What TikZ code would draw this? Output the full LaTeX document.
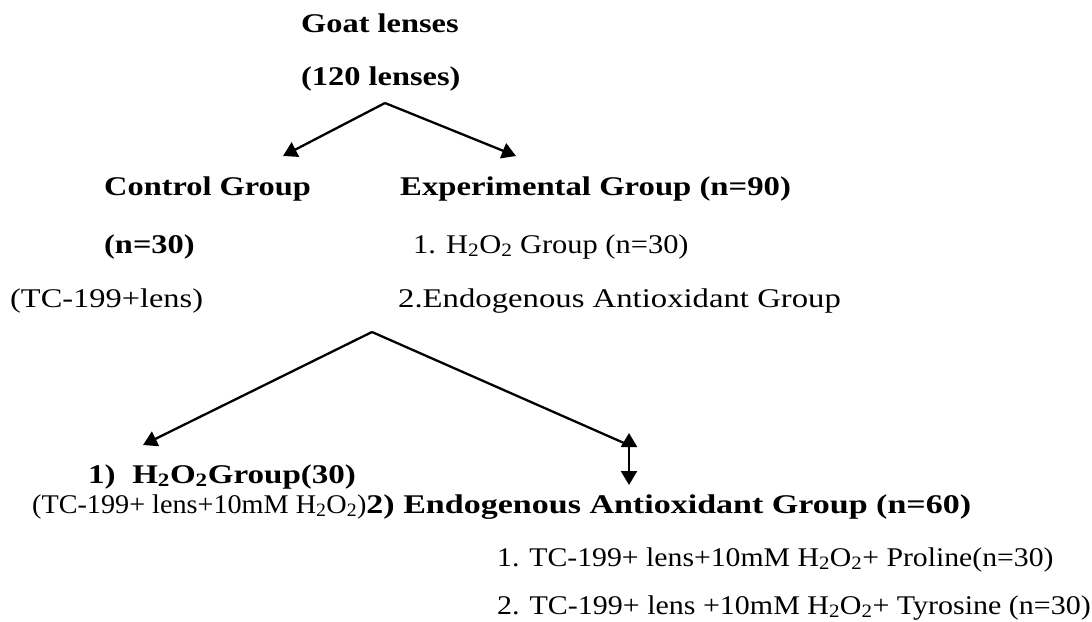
\documentclass[tikz,border=0pt]{standalone}
\usepackage{fontspec}
\usepackage{graphicx}
\setmainfont{Liberation Serif}[FakeStretch=1.2]
\usetikzlibrary{arrows.meta}
\newcommand{\hto}{H\textsubscript{2}O\textsubscript{2}}
\newcommand{\hsx}[2]{\scalebox{#1}[1]{#2}}
\begin{document}
\begin{tikzpicture}[x=1pt,y=-1pt,
  txt/.style={anchor=base west, inner sep=0pt, font=\fontsize{27}{32}\selectfont},
  btxt/.style={txt, font=\fontsize{27}{32}\selectfont\bfseries},
  arr/.style={line width=2.3pt, -{Triangle[length=14pt,width=16pt]}},
  darr/.style={line width=2.3pt, {Triangle[length=14pt,width=16pt]}-{Triangle[length=14pt,width=16pt]}}]
\useasboundingbox (0,0) rectangle (1092,621);
% top
\node[btxt] (goat) at (301,32) {Goat lenses};
\node[btxt] (n120) at (301,85) {(120 lenses)};
\coordinate (ap1) at (385,103);
\coordinate (ctlend) at (283,156);
\coordinate (expend) at (516,156);
\draw[arr] (ap1) -- (ctlend);
\draw[arr] (ap1) -- (expend);
% second level
\node[btxt] (ctl) at (104,195) {Control Group};
\node[btxt] (ctln) at (104,253) {(n=30)};
\node[txt] (ctlt) at (10,307) {(TC-199+lens)};
\node[btxt] (exp) at (400,195) {\hsx{1.01}{Experimental Group (n=90)}};
\node[txt] (exp1) at (413,253) {\hsx{0.94}{1. \hto{} Group (n=30)}};
\node[txt] (exp2) at (398,307) {\hsx{1.01}{2.Endogenous Antioxidant Group}};
% second split
\coordinate (ap2) at (372,332);
\coordinate (h2end) at (143,445);
\coordinate (vtop) at (629,433);
\coordinate (vbot) at (629,485);
\draw[arr] (ap2) -- (h2end);
\draw[line width=2.3pt] (ap2) -- (624,443);
\draw[darr] (vtop) -- (vbot);
% bottom
\node[btxt] (h2g) at (88,483) {\hsx{1.02}{1)\hspace{0.6em}\hto{}Group(30)}};
\node[txt] (h2t) at (32,513) {\hsx{0.87}{(TC-199+ lens+10mM \hto{})}\hsx{1.05}{\textbf{2) Endogenous Antioxidant Group (n=60)}}};
\node[txt] (p1) at (497,566) {\hsx{0.918}{1. TC-199+ lens+10mM \hto{}+ Proline(n=30)}};
\node[txt] (p2) at (497,614) {\hsx{0.925}{2. TC-199+ lens +10mM \hto{}+ Tyrosine (n=30)}};
\end{tikzpicture}
\end{document}
